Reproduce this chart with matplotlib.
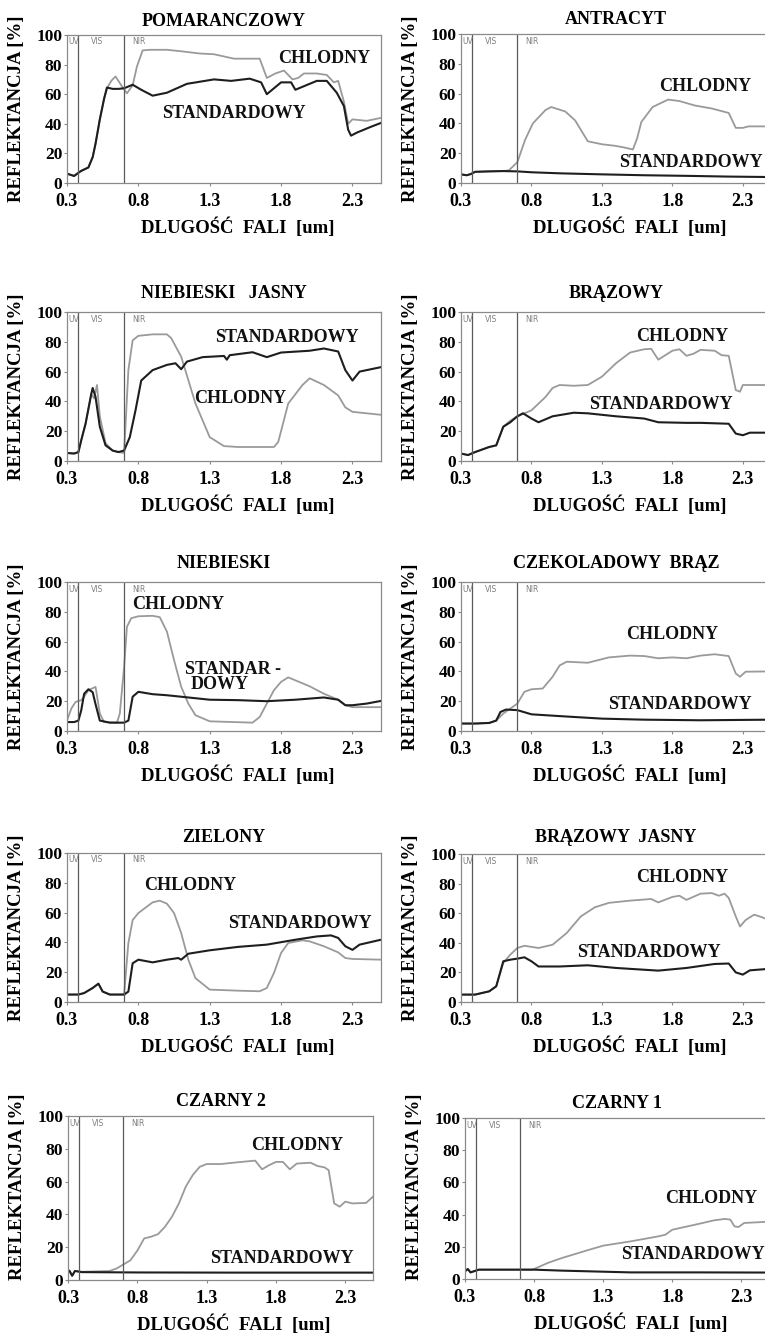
import matplotlib
matplotlib.use("Agg")
import matplotlib.pyplot as plt

plt.rcParams['font.family'] = ['Liberation Serif', 'DejaVu Serif']
plt.rcParams['font.weight'] = 'bold'

# Reflectance spectra [%] vs wavelength [um], standard and cool (CHLODNY) coatings
pom_wl_std = [0.30, 0.35, 0.38, 0.40, 0.45, 0.48, 0.50, 0.53, 0.56, 0.58, 0.62, 0.66, 0.70, 0.76, 0.82, 0.90, 1.00,
              1.14, 1.33, 1.45, 1.58, 1.66, 1.70, 1.75, 1.80, 1.87, 1.90, 1.95, 2.05, 2.12, 2.19, 2.24, 2.27, 2.29,
              2.33, 2.43, 2.50]
pom_std = [6.3, 4.7, 6.9, 8.2, 10.5, 17.5, 26.6, 43, 57, 64.5, 63.6, 63.6, 64, 66.4, 63, 59, 61,
           67, 70, 69, 70.5, 68, 60, 64, 68, 68, 63, 65, 69, 69, 61, 52, 36, 32,
           34, 38, 40.6]
pom_wl_chl = [0.30, 0.35, 0.38, 0.40, 0.45, 0.48, 0.50, 0.53, 0.56, 0.58, 0.61, 0.64, 0.68, 0.72, 0.76, 0.79, 0.83,
              0.88, 1.00, 1.10, 1.23, 1.33, 1.47, 1.65, 1.70, 1.76, 1.82, 1.88, 1.92, 1.96, 2.05, 2.12, 2.17, 2.20,
              2.24, 2.27, 2.30, 2.40, 2.50]
pom_chl = [6.3, 5.0, 6.9, 8.2, 10.5, 17.5, 26.6, 43, 57, 64, 69, 72, 66, 60.6, 66, 78.7, 89.6,
           90, 90, 89, 87.5, 87, 84, 84, 71, 74, 76, 70, 71, 74, 74, 73, 68, 69,
           55, 40, 43, 42, 44]

ant_wl_std = [0.30, 0.34, 0.37, 0.40, 0.50, 0.60, 0.70, 0.80, 1.00, 1.30, 1.60, 1.90, 2.20, 2.50]
ant_std = [5.8, 5.2, 6.0, 7.5, 7.8, 8.0, 7.8, 7.2, 6.5, 5.8, 5.2, 4.8, 4.3, 4.0]
ant_wl_chl = [0.30, 0.34, 0.37, 0.40, 0.50, 0.60, 0.64, 0.70, 0.755, 0.81, 0.90, 0.94, 1.04, 1.11, 1.20, 1.30,
              1.39, 1.45, 1.52, 1.55, 1.58, 1.66, 1.77, 1.85, 1.96, 2.08, 2.20, 2.25, 2.30, 2.34, 2.50]
ant_chl = [5.8, 5.2, 6.0, 7.5, 7.8, 8.0, 8.5, 14, 29, 40, 49, 51, 48, 42, 28, 26,
           25, 24, 22.5, 30, 41, 51, 56, 55, 52, 50, 47, 37, 37, 38, 38]

nbj_wl_std = [0.30, 0.35, 0.38, 0.40, 0.43, 0.47, 0.48, 0.50, 0.53, 0.57, 0.62, 0.66, 0.70, 0.74, 0.78, 0.82, 0.90,
              1.00, 1.06, 1.10, 1.14, 1.25, 1.40, 1.42, 1.44, 1.60, 1.70, 1.80, 2.00, 2.10, 2.20, 2.25, 2.30, 2.35,
              2.50]
nbj_std = [5.4, 5, 6, 14, 25, 45, 49, 43, 23, 10.5, 7, 6, 7, 16, 34, 54, 61,
           64.5, 65.6, 61.6, 66.7, 69.7, 70.5, 68, 71, 73, 69.7, 72.8, 74, 75.5, 73.5, 61, 54, 60,
           63]
nbj_wl_chl = [0.30, 0.35, 0.38, 0.40, 0.43, 0.47, 0.49, 0.51, 0.53, 0.57, 0.62, 0.66, 0.70, 0.73, 0.76, 0.80, 0.90,
              1.00, 1.03, 1.10, 1.20, 1.30, 1.40, 1.50, 1.75, 1.78, 1.85, 1.95, 2.00, 2.10, 2.20, 2.25, 2.30, 2.40,
              2.50]
nbj_chl = [5.4, 5, 6, 14, 25, 45, 42, 51, 30, 12, 7, 6, 5.4, 61, 81, 84, 85,
           85, 82.5, 70, 38.6, 16, 10, 9.4, 9.4, 12.8, 38.6, 51, 55.5, 51, 44, 36, 33, 32,
           31]

brz_wl_std = [0.30, 0.35, 0.40, 0.50, 0.55, 0.60, 0.65, 0.70, 0.74, 0.80, 0.85, 0.95, 1.10, 1.20, 1.40, 1.60, 1.70,
              1.90, 2.00, 2.20, 2.25, 2.30, 2.35, 2.50]
brz_std = [5, 4, 6, 9.4, 10.5, 23, 26, 30, 32, 28.5, 26, 30, 32.4, 32, 30, 28.5, 26,
           25.6, 25.6, 25, 18.4, 17.3, 19, 19]
brz_wl_chl = [0.30, 0.35, 0.40, 0.50, 0.55, 0.60, 0.65, 0.70, 0.75, 0.80, 0.90, 0.95, 1.00, 1.10, 1.20, 1.30, 1.40,
              1.50, 1.60, 1.65, 1.70, 1.75, 1.80, 1.85, 1.90, 1.95, 2.00, 2.10, 2.15, 2.20, 2.25, 2.28, 2.30, 2.50]
brz_chl = [5, 4, 6, 9.4, 10.5, 23, 27, 30, 32, 34, 43, 49, 51, 50.5, 51, 56.6, 65.6,
           72.8, 75, 75.3, 68, 71, 74, 75, 70.6, 72, 74.6, 74, 71, 70.6, 47.6, 46.5, 51, 51]

nb_wl_std = [0.30, 0.35, 0.38, 0.40, 0.42, 0.45, 0.48, 0.50, 0.53, 0.60, 0.70, 0.73, 0.76, 0.80, 0.90, 1.00, 1.10,
             1.30, 1.50, 1.70, 1.90, 2.10, 2.20, 2.25, 2.30, 2.40, 2.50]
nb_std = [6, 6, 7, 14, 25, 28, 26, 18, 7, 5.6, 5.6, 7, 23, 26.3, 24.7, 24, 23,
          21, 20.7, 20, 21, 22.5, 21, 17.3, 17.3, 18.4, 20.2]
nb_wl_chl = [0.30, 0.33, 0.36, 0.40, 0.42, 0.45, 0.50, 0.53, 0.56, 0.65, 0.67, 0.70, 0.72, 0.75, 0.80, 0.90, 0.95,
             1.00, 1.05, 1.10, 1.15, 1.20, 1.30, 1.60, 1.65, 1.70, 1.75, 1.80, 1.85, 1.90, 2.00, 2.10, 2.20, 2.25,
             2.30, 2.50]
nb_chl = [7, 15, 19.5, 20.7, 23, 27.4, 29.6, 11.7, 6, 5.6, 11.7, 43, 70, 75.7, 77, 77.3, 76.4,
          66.7, 47.6, 29.7, 18.4, 10.6, 6.5, 5.6, 9.4, 18.4, 27.4, 33, 36, 34, 30, 25, 21, 17.3,
          16, 16]

czb_wl_std = [0.30, 0.40, 0.50, 0.55, 0.58, 0.62, 0.70, 0.80, 1.00, 1.30, 1.60, 2.00, 2.50]
czb_std = [5, 5, 5.4, 7, 12.8, 14.4, 14, 11.2, 10, 8.3, 7.6, 7.2, 7.6]
czb_wl_chl = [0.30, 0.40, 0.50, 0.55, 0.60, 0.70, 0.75, 0.80, 0.88, 0.95, 1.00, 1.05, 1.20, 1.35, 1.50, 1.60, 1.70,
              1.80, 1.90, 2.00, 2.10, 2.20, 2.25, 2.28, 2.32, 2.50]
czb_chl = [5, 5, 5.4, 7, 11.7, 18.4, 26.3, 28, 28.5, 36.4, 44, 46.5, 45.8, 49.4, 50.6, 50.3, 48.8,
           49.4, 48.8, 50.6, 51.5, 50.3, 38.6, 36.4, 39.8, 40]

ziel_wl_std = [0.30, 0.38, 0.42, 0.48, 0.52, 0.55, 0.60, 0.70, 0.73, 0.76, 0.80, 0.90, 1.00, 1.08, 1.10, 1.15, 1.30,
               1.50, 1.70, 1.90, 2.05, 2.15, 2.20, 2.25, 2.30, 2.35, 2.50]
ziel_std = [5, 5, 6, 9.4, 12.3, 7, 5, 5, 7, 26, 28.4, 26.6, 28.4, 29.5, 28.4, 32.4, 34.7,
            37, 38.5, 41.8, 44, 44.7, 43, 37.4, 35, 38.5, 41.8]
ziel_wl_chl = [0.30, 0.38, 0.42, 0.48, 0.52, 0.55, 0.60, 0.70, 0.73, 0.76, 0.80, 0.90, 0.95, 1.00, 1.05, 1.10, 1.15,
               1.20, 1.30, 1.50, 1.65, 1.70, 1.75, 1.80, 1.85, 1.95, 2.00, 2.10, 2.20, 2.25, 2.30, 2.50]
ziel_chl = [5, 5, 6, 9.4, 12.3, 7, 5, 5, 39.6, 55, 59.7, 66.9, 68, 66, 59.7, 46.3, 28.4,
            16, 8.3, 7.6, 7.2, 9.4, 19.5, 32.9, 39.6, 41.4, 40.7, 37.4, 33.3, 29.5, 28.9, 28.4]

brj_wl_std = [0.30, 0.40, 0.50, 0.55, 0.60, 0.65, 0.70, 0.75, 0.80, 0.85, 1.00, 1.20, 1.40, 1.70, 1.90, 2.10, 2.20,
              2.25, 2.30, 2.35, 2.50]
brj_std = [5, 5, 7.2, 10.6, 27.5, 28.6, 29.3, 30.2, 27.5, 24, 24, 24.8, 23, 21.2, 23, 25.7, 26,
           20, 18.5, 21.4, 22.5]
brj_wl_chl = [0.30, 0.40, 0.50, 0.55, 0.60, 0.65, 0.70, 0.75, 0.85, 0.95, 1.05, 1.15, 1.25, 1.35, 1.50, 1.65, 1.70,
              1.80, 1.85, 1.90, 2.00, 2.08, 2.13, 2.17, 2.20, 2.25, 2.28, 2.32, 2.38, 2.42, 2.50]
brj_chl = [5, 5, 7.2, 10.6, 26.4, 32, 36.5, 38, 36.5, 38.7, 46.6, 57.8, 64, 67, 68.5, 69.6, 67.3,
           71, 71.8, 69, 73.2, 73.6, 71.8, 73.2, 70.3, 57.8, 51, 55.4, 59, 57.8, 55]

cz2_wl_std = [0.30, 0.31, 0.33, 0.35, 0.40, 0.80, 1.50, 2.50]
cz2_std = [5, 5.7, 2.6, 5.5, 4.8, 4.6, 4.5, 4.5]
cz2_wl_chl = [0.30, 0.31, 0.33, 0.35, 0.40, 0.60, 0.65, 0.70, 0.75, 0.80, 0.85, 0.90, 0.95, 1.00, 1.05, 1.10, 1.15,
              1.20, 1.25, 1.30, 1.40, 1.55, 1.65, 1.70, 1.75, 1.80, 1.85, 1.90, 1.95, 2.05, 2.10, 2.15, 2.18, 2.22,
              2.26, 2.30, 2.35, 2.45, 2.50]
cz2_chl = [5, 5.7, 2.6, 5.5, 5, 5.5, 7, 9.5, 12, 17.9, 25.4, 26.4, 28, 32.5, 38.6, 46.7, 57,
           64, 69, 70.7, 70.7, 72, 72.8, 67.5, 70, 72, 72, 67.5, 71, 71.5, 69.5, 68.7, 67, 46.7,
           44.7, 47.8, 46.7, 47, 50.8]

cz1_wl_std = [0.30, 0.32, 0.34, 0.40, 0.80, 1.00, 1.50, 2.00, 2.50]
cz1_std = [4.8, 6.2, 4.1, 5.8, 5.8, 5.2, 4.1, 4.1, 4.0]
cz1_wl_chl = [0.30, 0.32, 0.34, 0.40, 0.78, 0.80, 0.90, 1.00, 1.20, 1.30, 1.50, 1.70, 1.75, 1.80, 2.00, 2.10, 2.18,
              2.22, 2.25, 2.28, 2.32, 2.50]
cz1_chl = [4.8, 6.2, 4.1, 5.8, 5.8, 6.2, 10, 13, 18.2, 20.7, 23.4, 26.5, 27.5, 30.6, 34.4, 36.4, 37.3,
           36.9, 32.7, 32.3, 34.8, 35.6]

titles = ['POMARANCZOWY', 'ANTRACYT', 'NIEBIESKI   JASNY', 'BRĄZOWY', 'NIEBIESKI', 'CZEKOLADOWY  BRĄZ',
          'ZIELONY', 'BRĄZOWY  JASNY', 'CZARNY 2', 'CZARNY 1']
x_ticks = [0.3, 0.8, 1.3, 1.8, 2.3]
y_ticks = [0, 20, 40, 60, 80, 100]
band_edges = [0.38, 0.70]

W, H = 765, 1334
STD_COLOR = '#1e1e1e'
CHL_COLOR = '#9a9a9a'
FRAME = '#8a8a8a'

# (title, curves, label positions, axes box in px: left, right, top, bottom, title offset px)
panels = [
    (0, pom_wl_std, pom_std, pom_wl_chl, pom_chl, [('CHLODNY', 2.10, 84), ('STANDARDOWY', 1.47, 47)],
     (67, 381, 35, 183, 14)),
    (1, ant_wl_std, ant_std, ant_wl_chl, ant_chl, [('CHLODNY', 2.03, 65), ('STANDARDOWY', 1.93, 13.5)],
     (461, 771, 34, 183, 14)),
    (2, nbj_wl_std, nbj_std, nbj_wl_chl, nbj_chl, [('STANDARDOWY', 1.84, 83), ('CHLODNY', 1.51, 42)],
     (67, 381, 312, 461, 19)),
    (3, brz_wl_std, brz_std, brz_wl_chl, brz_chl, [('CHLODNY', 1.87, 83.6), ('STANDARDOWY', 1.72, 38)],
     (461, 771, 312, 461, 19)),
    (4, nb_wl_std, nb_std, nb_wl_chl, nb_chl, [('CHLODNY', 1.08, 84.7), ('STANDAR -', 1.46, 41), ('DOWY', 1.37, 31)],
     (67, 381, 582, 731, 18)),
    (5, czb_wl_std, czb_std, czb_wl_chl, czb_chl, [('CHLODNY', 1.80, 65), ('STANDARDOWY', 1.85, 18)],
     (461, 771, 582, 731, 18)),
    (6, ziel_wl_std, ziel_std, ziel_wl_chl, ziel_chl, [('CHLODNY', 1.16, 78), ('STANDARDOWY', 1.93, 52.5)],
     (67, 381, 853, 1002, 15)),
    (7, brj_wl_std, brj_std, brj_wl_chl, brj_chl, [('CHLODNY', 1.87, 84), ('STANDARDOWY', 1.63, 33.5)],
     (461, 771, 854, 1002, 16)),
    (8, cz2_wl_std, cz2_std, cz2_wl_chl, cz2_chl, [('CHLODNY', 1.95, 82), ('STANDARDOWY', 1.84, 13)],
     (68, 373, 1116, 1280, 14)),
    (9, cz1_wl_std, cz1_std, cz1_wl_chl, cz1_chl, [('CHLODNY', 2.08, 50), ('STANDARDOWY', 1.95, 15)],
     (465, 769, 1118, 1279, 15)),
]

fig = plt.figure(figsize=(W / 100, H / 100), dpi=100)
fig.patch.set_facecolor('white')

for idx, wl_s, std, wl_c, chl, labels, box in panels:
    left, right, top, bottom, title_off = box
    ax = fig.add_axes([left / W, 1 - bottom / H, (right - left) / W, (bottom - top) / H])
    hpx = bottom - top
    wpx = right - left

    ax.plot(wl_c, chl, color=CHL_COLOR, lw=1.3)
    ax.plot(wl_s, std, color=STD_COLOR, lw=1.5)

    # spectral band boundaries
    for edge in band_edges:
        ax.axvline(edge, color='#5a5a5a', lw=0.9)
    for name, xpos in [('UV', 0.307), ('VIS', 0.47), ('NIR', 0.755)]:
        ax.text(xpos, 100 - 7 / hpx * 100, name, fontsize=5.5, color='#808080',
                family='DejaVu Sans', fontweight='normal', ha='left', va='center')

    for text, xpos, ypos in labels:
        ax.text(xpos, ypos, text, fontsize=13, fontweight='bold', ha='center', va='center', color='#111111')

    ax.set_xlim(0.3, 2.5)
    ax.set_ylim(0, 100)
    ax.set_xticks(x_ticks)
    ax.set_xticklabels([f'{t:.1f}' for t in x_ticks])
    ax.set_yticks(y_ticks)
    ax.tick_params(axis='x', direction='out', length=2.5, width=0.8, color=FRAME, pad=4.5, labelsize=13)
    ax.tick_params(axis='y', direction='out', length=2.5, width=0.8, color=FRAME, pad=1, labelsize=12.5)
    for lab in ax.get_xticklabels() + ax.get_yticklabels():
        lab.set_fontweight('bold')
    for sp in ax.spines.values():
        sp.set_color(FRAME)
        sp.set_linewidth(0.9)

    ax.text(0.5, 1 + title_off / hpx, titles[idx], transform=ax.transAxes, fontsize=13,
            fontweight='bold', ha='center', va='center')
    ylab_x = -50 / wpx
    ax.text(ylab_x, 0.5 if idx < 8 else 0.57, 'REFLEKTANCJA [%]', transform=ax.transAxes, rotation=90,
            fontsize=13.5, fontweight='bold', ha='center', va='center')
    ax.text(0.545, -44 / hpx, 'DLUGOŚĆ  FALI  [um]', transform=ax.transAxes, fontsize=13.5,
            fontweight='bold', ha='center', va='center')

fig.savefig('out.png', dpi=100, facecolor='white')
